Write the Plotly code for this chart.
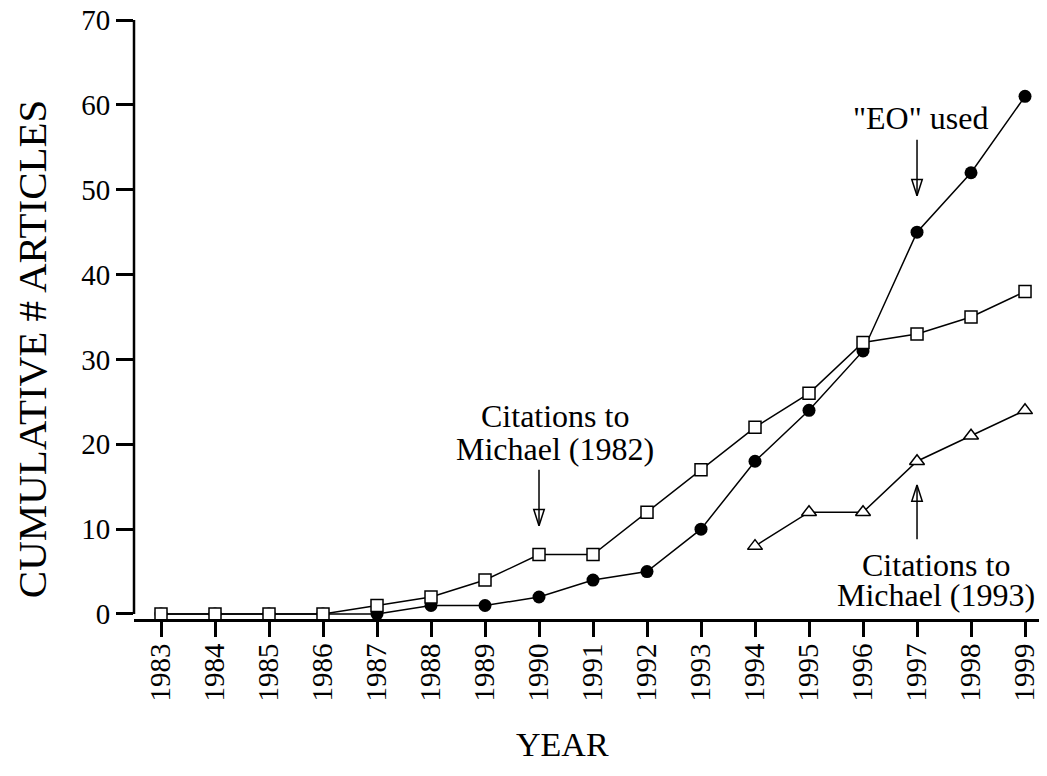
import plotly.graph_objects as go

years = list(range(1983, 2000))
eo_used = [0, 0, 0, 0, 0, 1, 1, 2, 4, 5, 10, 18, 24, 31, 45, 52, 61]
cit_1982 = [0, 0, 0, 0, 1, 2, 4, 7, 7, 12, 17, 22, 26, 32, 33, 35, 38]
years_1993 = [1994, 1995, 1996, 1997, 1998, 1999]
cit_1993 = [8, 12, 12, 18, 21, 24]
y_ticks = [0, 10, 20, 30, 40, 50, 60, 70]
x_ticktext = [str(y) for y in years]

FONT = "Liberation Serif"
fig = go.Figure()

fig.add_trace(go.Scatter(
    x=years, y=eo_used, mode="lines+markers",
    line=dict(color="black", width=1.5),
    marker=dict(symbol="circle", size=13, color="black"),
    hoverinfo="skip", showlegend=False))
fig.add_trace(go.Scatter(
    x=years, y=cit_1982, mode="lines+markers",
    line=dict(color="black", width=1.5),
    marker=dict(symbol="square", size=12, color="white",
                line=dict(color="black", width=1.5)),
    hoverinfo="skip", showlegend=False))
fig.add_trace(go.Scatter(
    x=years_1993, y=cit_1993, mode="lines+markers",
    line=dict(color="black", width=1.5),
    marker=dict(symbol="triangle-up", size=13, color="white",
                line=dict(color="black", width=1.5)),
    hoverinfo="skip", showlegend=False))

# arrows (line + hollow head)
arrows = [
    # x, y_tail, y_head_center, direction
    (1990, 17.0, 10.4, 180),
    (1997, 55.9, 49.3, 180),
    (1997, 8.8, 15.2, 0),
]
for ax_, yt, yh, ang in arrows:
    fig.add_shape(type="line", x0=ax_, x1=ax_, y0=yt, y1=yh,
                  line=dict(color="black", width=1.5), layer="above")
fig.add_trace(go.Scatter(
    x=[a[0] for a in arrows], y=[a[2] for a in arrows], mode="markers",
    marker=dict(symbol="arrow-open", size=17, angle=[a[3] for a in arrows],
                color="black", line=dict(color="black", width=1.5)),
    hoverinfo="skip", showlegend=False))

# y-axis line from 0 to 70
fig.add_shape(type="line", xref="paper", x0=0, x1=0, y0=0, y1=70,
              line=dict(color="black", width=2.5), layer="above")

texts = [
    ("Citations to", 1990.3, 23.3),
    ("Michael (1982)", 1990.3, 19.4),
    ("\"EO\" used", 1997.06, 58.4),
    ("Citations to", 1997.35, 5.8),
    ("Michael (1993)", 1997.35, 2.25),
]
for t, x, y in texts:
    fig.add_annotation(x=x, y=y, text=t, showarrow=False,
                       font=dict(family=FONT, size=32, color="black"),
                       xanchor="center", yanchor="middle")

fig.add_annotation(xref="paper", yref="paper", x=-0.112, y=0.452,
                   text="CUMULATIVE # ARTICLES", textangle=-90, showarrow=False,
                   font=dict(family=FONT, size=41, color="black"),
                   xanchor="center", yanchor="middle")
fig.add_annotation(xref="paper", yref="paper", x=0.47, y=-0.210,
                   text="YEAR", showarrow=False,
                   font=dict(family=FONT, size=34, color="black"),
                   xanchor="center", yanchor="middle")

fig.update_xaxes(range=[1982.5, 1999.37], tickvals=years, ticktext=x_ticktext,
                 tickangle=-90, ticks="outside", ticklen=15, tickwidth=2.5,
                 tickcolor="black", showline=True, linecolor="black", linewidth=3,
                 showgrid=False, zeroline=False, automargin=False,
                 ticklabelstandoff=-5, ticklabeloverflow="allow",
                 tickfont=dict(family=FONT, size=29, color="black"))
fig.update_yaxes(range=[-0.59, 70], tickvals=y_ticks, ticks="outside", ticklen=17,
                 tickwidth=2.5, tickcolor="black", showline=False,
                 showgrid=False, zeroline=False, automargin=False,
                 ticklabeloverflow="allow",
                 tickfont=dict(family=FONT, size=29, color="black"))

# page body has an 8px default margin, so the figure is sized to end at the window edge
fig.update_layout(width=1039, height=768,
                  margin=dict(l=126, r=2, t=12, b=157),
                  plot_bgcolor="white", paper_bgcolor="white",
                  showlegend=False)

fig.write_html("out.html")
